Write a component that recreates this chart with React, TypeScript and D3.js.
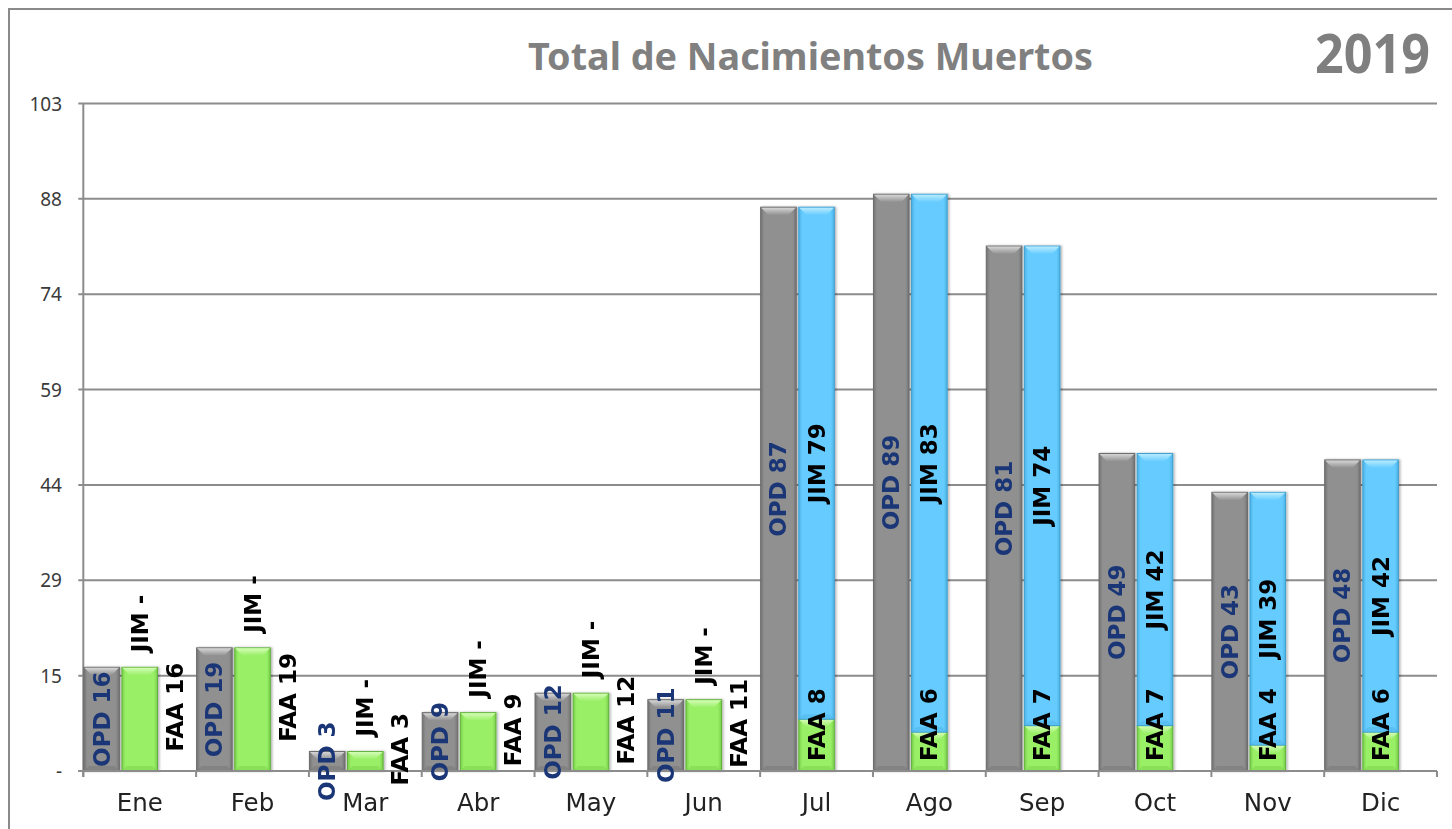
import React from "react";
import * as d3 from "d3";

// data
const months = ["Ene", "Feb", "Mar", "Abr", "May", "Jun", "Jul", "Ago", "Sep", "Oct", "Nov", "Dic"];
const opd = [16, 19, 3, 9, 12, 11, 87, 89, 81, 49, 43, 48];
const faa = [16, 19, 3, 9, 12, 11, 8, 6, 7, 7, 4, 6];
const jim = [0, 0, 0, 0, 0, 0, 79, 83, 74, 42, 39, 42];
const yMax = 103;
const yTickLabels = ["-", "15", "29", "44", "59", "74", "88", "103"];
const title = "Total de Nacimientos Muertos";
const year = "2019";

const W = 1452;
const H = 829;
const left = 83.3;
const right = 1437;
const top = 103.5;
const bottom = 771;

const colors = {
  grey: { body: "#909090", light: "#d6d6d6", dark: "#737373", edge: "#6b6b6b" },
  blue: { body: "#66ccff", light: "#b8ebff", dark: "#4cb2e6", edge: "#3f9fcf" },
  green: { body: "#99ef66", light: "#d4fdb6", dark: "#78cf4a", edge: "#62b23c" },
};

type Pal = { body: string; light: string; dark: string; edge: string };

function Bar({ x, y, w, h, pal, id }: { x: number; y: number; w: number; h: number; pal: Pal; id: string }) {
  if (h <= 0) return null;
  const b = Math.min(8, h / 2);
  const bb = Math.min(5, h / 3);
  return (
    <g>
      <defs>
        <linearGradient id={id} x1="0" y1="0" x2="1" y2="0">
          <stop offset="0" stopColor={pal.dark} />
          <stop offset="0.1" stopColor={pal.body} />
          <stop offset="0.9" stopColor={pal.body} />
          <stop offset="1" stopColor={pal.dark} />
        </linearGradient>
        <linearGradient id={id + "t"} x1="0" y1="0" x2="0" y2="1">
          <stop offset="0" stopColor={pal.light} />
          <stop offset="1" stopColor={pal.body} />
        </linearGradient>
      </defs>
      <rect x={x} y={y} width={w} height={h} fill={`url(#${id})`} stroke={pal.edge} strokeWidth={1} />
      <polygon
        points={`${x + 0.5},${y + 0.5} ${x + w - 0.5},${y + 0.5} ${x + w - b},${y + b} ${x + b},${y + b}`}
        fill={`url(#${id}t)`}
      />
      <polygon
        points={`${x + 0.5},${y + h - 0.5} ${x + w - 0.5},${y + h - 0.5} ${x + w - bb},${y + h - bb} ${x + bb},${y + h - bb}`}
        fill={pal.dark}
        opacity={0.45}
      />
    </g>
  );
}

function RLabel({ x, y, text, anchor, fill }: { x: number; y: number; text: string; anchor: string; fill: string }) {
  return (
    <text
      transform={`translate(${x},${y}) rotate(-90)`}
      textAnchor={anchor}
      dominantBaseline="central"
      fontFamily="DejaVu Sans"
      fontWeight="bold"
      fontSize={23}
      fill={fill}
    >
      {text}
    </text>
  );
}

export default function App() {
  const x = d3.scaleBand<string>().domain(months).range([left, right]).padding(0);
  const slot = d3
    .scaleBand<string>()
    .domain(["opd", "stack", "free"])
    .range([0, x.bandwidth()])
    .paddingInner(0.04);
  const sw = slot.bandwidth();
  const y = d3.scaleLinear().domain([0, yMax]).range([bottom, top]);
  const ticks = yTickLabels.map((_, i) => (i * yMax) / (yTickLabels.length - 1));

  return (
    <svg
      width={W}
      height={H}
      style={{ position: "fixed", left: 0, top: 0, background: "#fff" }}
    >
      <defs>
        <filter id="sh" x="-20%" y="-5%" width="140%" height="110%">
          <feDropShadow dx="1.5" dy="0" stdDeviation="1.2" floodColor="#000" floodOpacity="0.3" />
        </filter>
      </defs>
      <rect x={0} y={0} width={W} height={H} fill="#fff" />
      <rect x={9} y={9} width={W + 20} height={H + 20} fill="none" stroke="#8a8a8a" strokeWidth={2} />

      <text
        x={528}
        y={69.5}
        fontFamily="Noto Sans"
        fontWeight="bold"
        fontSize={37}
        fill="#808080"
        textLength={565}
        lengthAdjust="spacingAndGlyphs"
      >
        {title}
      </text>
      <text
        x={1315}
        y={73}
        fontFamily="Noto Sans"
        fontWeight="bold"
        fontSize={53}
        fill="#7f7f7f"
        textLength={115}
        lengthAdjust="spacingAndGlyphs"
      >
        {year}
      </text>

      {/* gridlines and y axis */}
      {ticks.map((t, i) => (
        <g key={"t" + i}>
          <line x1={left - 5} x2={right} y1={y(t)} y2={y(t)} stroke="#8c8c8c" strokeWidth={2} />
          <text
            x={62}
            y={y(t)}
            textAnchor="end"
            dominantBaseline="central"
            fontFamily="Noto Sans"
            fontSize={19}
            fill="#3a3a3a"
          >
            {yTickLabels[i]}
          </text>
        </g>
      ))}
      <line x1={left} x2={left} y1={top} y2={bottom + 6} stroke="#8c8c8c" strokeWidth={2} />
      {months.map((m) => (
        <line key={"xt" + m} x1={x(m)!} x2={x(m)!} y1={bottom} y2={bottom + 6} stroke="#8c8c8c" strokeWidth={2} />
      ))}
      <line x1={right} x2={right} y1={bottom} y2={bottom + 6} stroke="#8c8c8c" strokeWidth={2} />

      {/* bars */}
      <g filter="url(#sh)">
        {months.map((m, i) => {
          const x0 = x(m)!;
          const gx = x0 + slot("opd")! + 0.5;
          const sx = x0 + slot("stack")! + 0.5;
          return (
            <g key={"b" + m}>
              <Bar id={"g" + i} x={gx} y={y(opd[i])} w={sw - 1} h={y(0) - y(opd[i])} pal={colors.grey} />
              <Bar id={"f" + i} x={sx} y={y(faa[i])} w={sw - 1} h={y(0) - y(faa[i])} pal={colors.green} />
              <Bar
                id={"j" + i}
                x={sx}
                y={y(faa[i] + jim[i])}
                w={sw - 1}
                h={y(faa[i]) - y(faa[i] + jim[i])}
                pal={colors.blue}
              />
            </g>
          );
        })}
      </g>

      {/* redraw baseline over bars */}
      <line x1={left - 5} x2={right} y1={bottom} y2={bottom} stroke="#8c8c8c" strokeWidth={2} />

      {/* labels */}
      {months.map((m, i) => {
        const x0 = x(m)!;
        const cg = x0 + slot("opd")! + sw / 2;
        const cs = x0 + slot("stack")! + sw / 2;
        const cf = x0 + slot("free")! + sw / 2 - 3;
        const hasJim = jim[i] > 0;
        return (
          <g key={"l" + m}>
            <RLabel x={cg} y={(y(0) + y(opd[i])) / 2} text={`OPD ${opd[i]}`} anchor="middle" fill="#1a3676" />
            {hasJim ? (
              <>
                <RLabel
                  x={cs}
                  y={(y(faa[i]) + y(faa[i] + jim[i])) / 2}
                  text={`JIM ${jim[i]}`}
                  anchor="middle"
                  fill="#000"
                />
                <RLabel x={cs} y={y(0) - 10} text={`FAA ${faa[i]}`} anchor="start" fill="#000" />
              </>
            ) : (
              <>
                <RLabel x={cs} y={y(faa[i]) - 15} text="JIM -" anchor="start" fill="#000" />
                <RLabel x={cf} y={(y(0) + y(faa[i])) / 2 - 12} text={`FAA ${faa[i]}`} anchor="middle" fill="#000" />
              </>
            )}
          </g>
        );
      })}

      {/* x labels */}
      {months.map((m) => (
        <text
          key={"xl" + m}
          x={x(m)! + x.bandwidth() / 2}
          y={811}
          textAnchor="middle"
          fontFamily="DejaVu Sans"
          fontSize={24.5}
          fill="#222"
        >
          {m}
        </text>
      ))}
    </svg>
  );
}
